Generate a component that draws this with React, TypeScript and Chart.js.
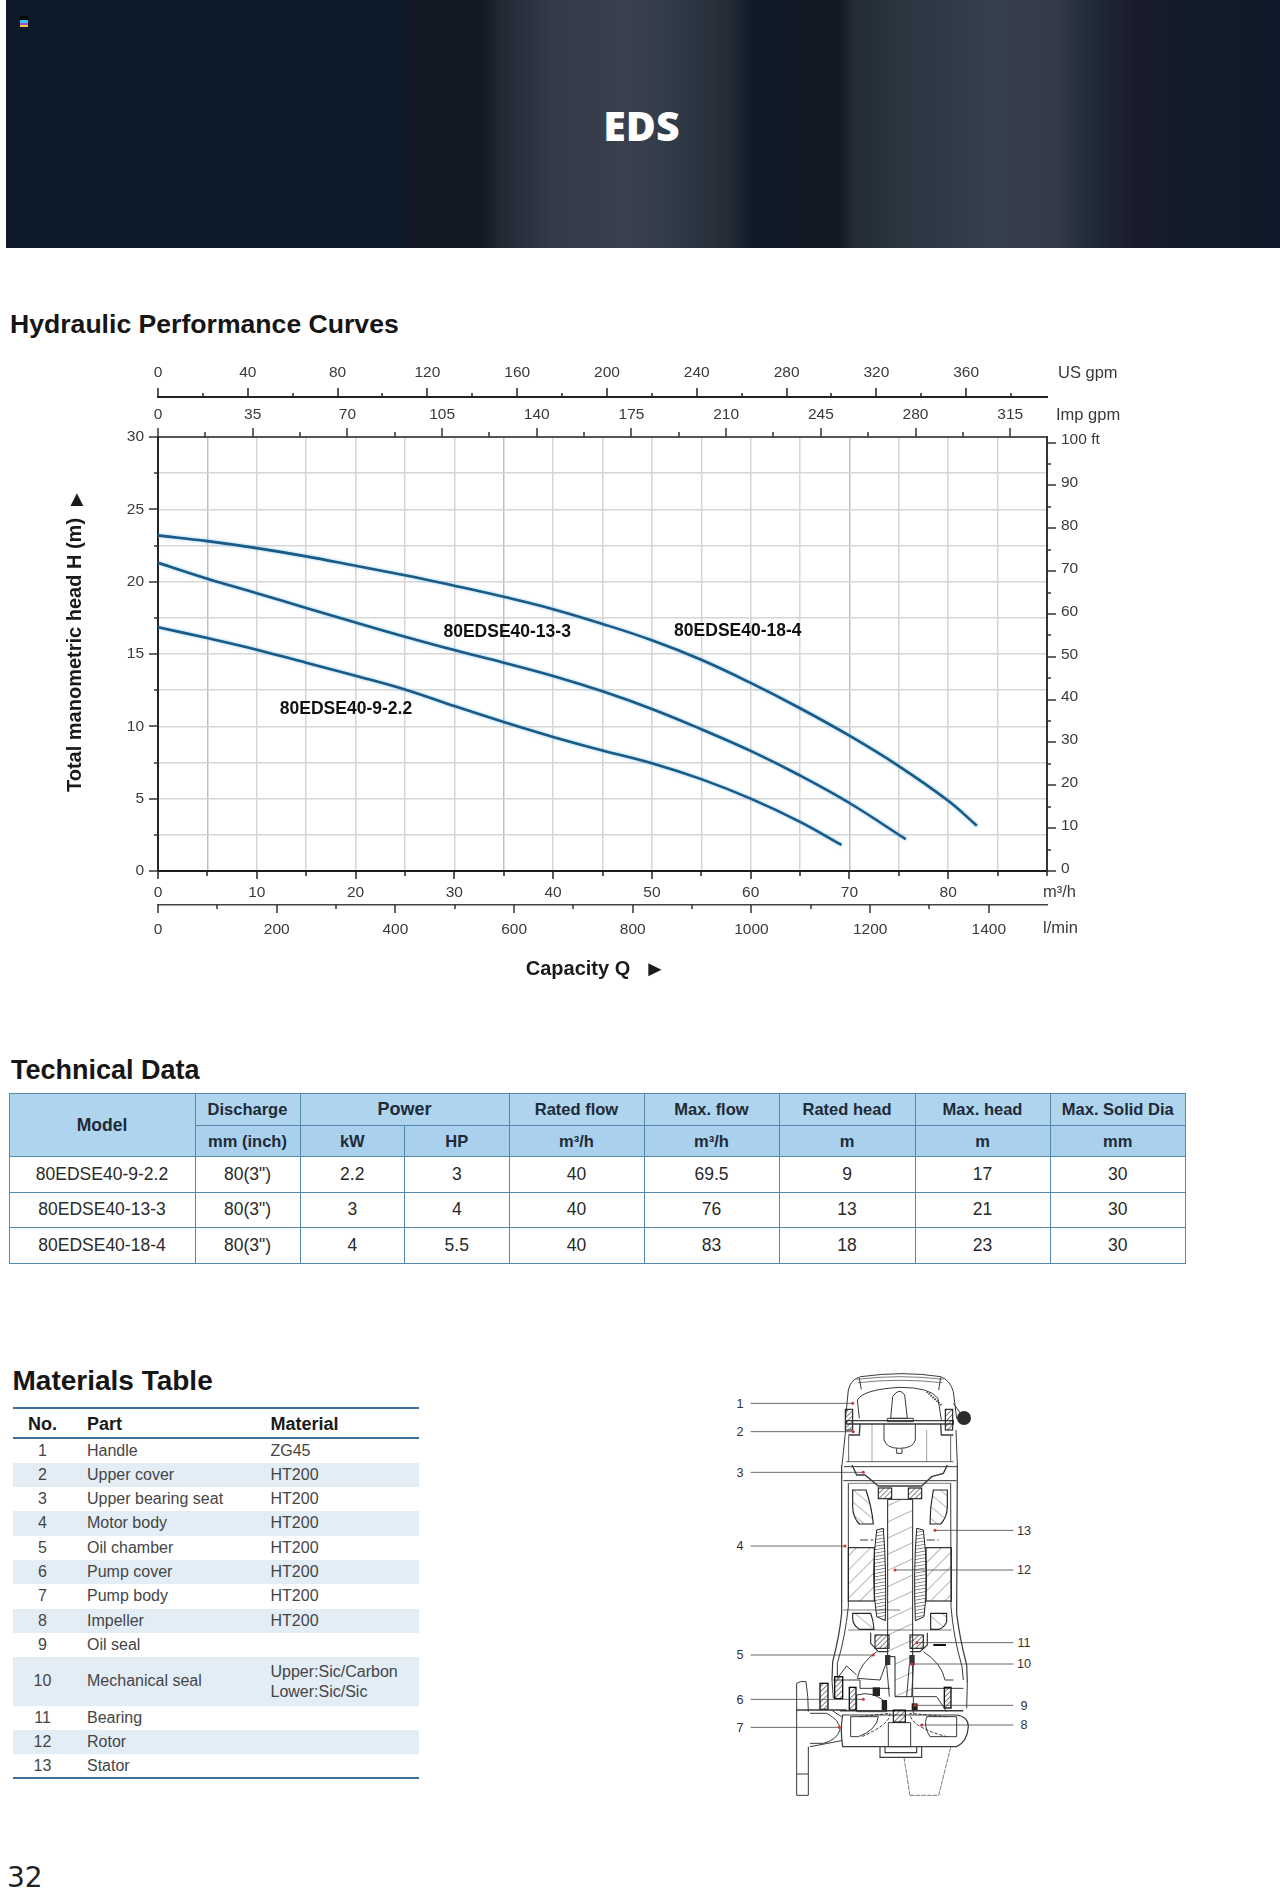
import React, { useEffect, useRef } from "react";
import { Chart, registerables } from "chart.js";

Chart.register(...registerables);

// ---------- chart data ----------
const flow184 = [0, 5, 10, 15, 20, 25, 30, 35, 40, 45, 50, 55, 60, 65, 70, 75, 80, 82.9];
const head184 = [23.2, 22.8, 22.32, 21.75, 21.1, 20.45, 19.72, 18.95, 18.1, 17.08, 15.95, 14.6, 13.0, 11.25, 9.35, 7.25, 4.85, 3.13];
const flow133 = [0, 5, 10, 15, 20, 25, 30, 35, 40, 45, 50, 55, 60, 65, 70, 75.7];
const head133 = [21.3, 20.2, 19.2, 18.18, 17.17, 16.2, 15.27, 14.4, 13.48, 12.42, 11.2, 9.8, 8.3, 6.6, 4.7, 2.2];
const flow922 = [0, 5, 10, 15, 20, 25, 30, 35, 40, 45, 50, 55, 60, 65, 69.2];
const head922 = [16.85, 16.1, 15.3, 14.4, 13.5, 12.55, 11.4, 10.3, 9.27, 8.33, 7.45, 6.35, 5.0, 3.4, 1.8];

const m3hLabels = [0, 10, 20, 30, 40, 50, 60, 70, 80];
const lminLabels = [0, 200, 400, 600, 800, 1000, 1200, 1400];
const lminTicks = [0, 100, 200, 300, 400, 500, 600, 700, 800, 900, 1000, 1100, 1200, 1300, 1400];
const impLabels = [0, 35, 70, 105, 140, 175, 210, 245, 280, 315];
const usLabels = [0, 40, 80, 120, 160, 200, 240, 280, 320, 360];
const headLabels = [0, 5, 10, 15, 20, 25, 30];
const feetLabels = [0, 10, 20, 30, 40, 50, 60, 70, 80, 90, 100];
const darkGridFlows = [5, 35, 70];

const curveNames = ["80EDSE40-18-4", "80EDSE40-13-3", "80EDSE40-9-2.2"];
const curveLabelFlow = [58.7, 35.35, 19.03];
const curveLabelHead = [16.55, 16.5, 11.2];

// ---------- table data ----------
const techGroupHeads = ["Discharge", "Power", "Rated flow", "Max. flow", "Rated head", "Max. head", "Max. Solid Dia"];
const techUnits = ["mm (inch)", "kW", "HP", "m³/h", "m³/h", "m", "m", "mm"];
const techRows = [
  ["80EDSE40-9-2.2", '80(3")', "2.2", "3", "40", "69.5", "9", "17", "30"],
  ["80EDSE40-13-3", '80(3")', "3", "4", "40", "76", "13", "21", "30"],
  ["80EDSE40-18-4", '80(3")', "4", "5.5", "40", "83", "18", "23", "30"],
];
const materialRows: [string, string, string[]][] = [
  ["1", "Handle", ["ZG45"]],
  ["2", "Upper cover", ["HT200"]],
  ["3", "Upper bearing seat", ["HT200"]],
  ["4", "Motor body", ["HT200"]],
  ["5", "Oil chamber", ["HT200"]],
  ["6", "Pump cover", ["HT200"]],
  ["7", "Pump body", ["HT200"]],
  ["8", "Impeller", ["HT200"]],
  ["9", "Oil seal", [""]],
  ["10", "Mechanical seal", ["Upper:Sic/Carbon", "Lower:Sic/Sic"]],
  ["11", "Bearing", [""]],
  ["12", "Rotor", [""]],
  ["13", "Stator", [""]],
];

const SANS = '"Liberation Sans", Arial, sans-serif';
const TICK_FONT = { family: "Liberation Sans", size: 15.5 };
const TEXT = "#3a3a3a";

const pts = (xs: number[], ys: number[]) => xs.map((x, i) => ({ x, y: ys[i] }));
const fixedH = (h: number) => (s: any) => { s.height = h; };
const fixedW = (w: number) => (s: any) => { s.width = w; };
const only = (list: number[]) => (v: any) => (list.includes(Number(v)) ? String(v) : "");

const tickSpec: Record<string, { side: string; list: number[]; major: number; minor: number; color: string; w: number }> = {
  x: { side: "bottom", list: m3hLabels, major: 8, minor: 5, color: "#222", w: 1.5 },
  lmin: { side: "bottom", list: lminLabels, major: 8, minor: 4, color: "#333", w: 1.5 },
  imp: { side: "top", list: impLabels, major: 9, minor: 5, color: "#333", w: 1.5 },
  us: { side: "top", list: usLabels, major: 9, minor: 4, color: "#222", w: 1.5 },
  y: { side: "left", list: headLabels, major: 9, minor: 4, color: "#333", w: 1.5 },
  ft: { side: "right", list: feetLabels, major: 9, minor: 4, color: "#333", w: 1.5 },
};

const tickPlugin = {
  id: "tickMarks",
  afterDraw(chart: any) {
    const { ctx } = chart;
    ctx.save();
    for (const id of Object.keys(tickSpec)) {
      const spec = tickSpec[id];
      const scale = chart.scales[id];
      ctx.strokeStyle = spec.color;
      ctx.lineWidth = spec.w;
      for (const t of scale.ticks) {
        const p = Math.round(scale.getPixelForValue(t.value));
        const len = spec.list.includes(t.value) ? spec.major : spec.minor;
        ctx.beginPath();
        if (spec.side === "bottom") { ctx.moveTo(p, scale.top); ctx.lineTo(p, scale.top + len); }
        if (spec.side === "top") { ctx.moveTo(p, scale.bottom); ctx.lineTo(p, scale.bottom - len); }
        if (spec.side === "left") { ctx.moveTo(scale.right, p); ctx.lineTo(scale.right - len, p); }
        if (spec.side === "right") { ctx.moveTo(scale.left, p); ctx.lineTo(scale.left + len, p); }
        ctx.stroke();
      }
    }
    ctx.restore();
  },
};

const glowPlugin = {
  id: "lineGlow",
  beforeDatasetsDraw(chart: any) {
    chart.ctx.save();
    chart.ctx.shadowColor = "rgba(90,175,235,0.75)";
    chart.ctx.shadowBlur = 3;
  },
  afterDatasetsDraw(chart: any) {
    chart.ctx.restore();
  },
};

const textPlugin = {
  id: "chartTexts",
  afterDraw(chart: any) {
    const { ctx, scales } = chart;
    ctx.save();
    ctx.textBaseline = "middle";
    // curve names, placed through the scales
    ctx.fillStyle = "#111";
    ctx.textAlign = "center";
    ctx.font = `bold 17.5px ${SANS}`;
    curveNames.forEach((n, i) => {
      ctx.fillText(n, scales.x.getPixelForValue(curveLabelFlow[i]), scales.y.getPixelForValue(curveLabelHead[i]));
    });
    // axis units
    ctx.fillStyle = TEXT;
    ctx.textAlign = "left";
    ctx.font = `16.5px ${SANS}`;
    const right = chart.chartArea.right;
    const top = chart.chartArea.top;
    const bottom = chart.chartArea.bottom;
    ctx.fillText("US gpm", right + 11, top - 64);
    ctx.fillText("Imp gpm", right + 9, top - 22);
    ctx.fillText("m³/h", right - 4, bottom + 21);
    ctx.fillText("l/min", right - 4, bottom + 57);
    // axis titles
    ctx.fillStyle = "#1a1a1a";
    ctx.font = `bold 20px ${SANS}`;
    ctx.textAlign = "center";
    ctx.fillText("Capacity Q", 578, bottom + 98);
    ctx.font = `22px ${SANS}`;
    ctx.fillText("►", 655, bottom + 99);
    ctx.fillText("▲", 77, top + 63);
    ctx.font = `bold 20px ${SANS}`;
    ctx.translate(75.5, top + 218);
    ctx.rotate(-Math.PI / 2);
    ctx.fillText("Total manometric head H (m)", 0, 0);
    ctx.restore();
  },
};

function PerformanceChart() {
  const ref = useRef<HTMLCanvasElement | null>(null);
  useEffect(() => {
    const line = (label: string, xs: number[], ys: number[]) => ({
      label,
      data: pts(xs, ys),
      borderColor: "#1b5a85",
      borderWidth: 2.6,
      pointRadius: 0,
      tension: 0.4,
      xAxisID: "x",
      yAxisID: "y",
    });
    const tickBase = { font: TICK_FONT, color: TEXT, autoSkip: false, maxRotation: 0, includeBounds: false };
    const noGrid = { display: false, drawTicks: false, tickLength: 0 };
    const chart = new Chart(ref.current as HTMLCanvasElement, {
      type: "line",
      data: {
        datasets: [
          line(curveNames[0], flow184, head184),
          line(curveNames[1], flow133, head133),
          line(curveNames[2], flow922, head922),
        ],
      },
      plugins: [tickPlugin, glowPlugin, textPlugin],
      options: {
        animation: false,
        responsive: false,
        layout: { padding: 0 },
        plugins: { legend: { display: false }, tooltip: { enabled: false }, title: { display: false } },
        scales: {
          x: {
            type: "linear", position: "bottom", weight: 1, min: 0, max: 90,
            grid: {
              drawTicks: false, tickLength: 0, lineWidth: 1.5,
              color: (c: any) => (darkGridFlows.includes(c.tick?.value) ? "#bfbfbf" : "#d6d6d6"),
            },
            border: { display: true, color: "#1c1c1c", width: 2 },
            ticks: { ...tickBase, stepSize: 5, padding: 12, callback: only(m3hLabels) },
            afterFit: fixedH(34),
          },
          lmin: {
            type: "linear", position: "bottom", weight: 2, min: 0, max: 1498,
            grid: noGrid,
            border: { display: true, color: "#444", width: 1.6 },
            ticks: { ...tickBase, stepSize: 100, padding: 15, callback: only(lminLabels) },
            afterBuildTicks: (s: any) => { s.ticks = lminTicks.map((value) => ({ value })); },
            afterFit: fixedH(95),
          },
          imp: {
            type: "linear", position: "top", weight: 1, min: 0, max: 328.6,
            grid: noGrid,
            border: { display: true, color: "#555", width: 2 },
            ticks: { ...tickBase, stepSize: 17.5, padding: 13, callback: only(impLabels) },
            afterFit: fixedH(40),
          },
          us: {
            type: "linear", position: "top", weight: 2, min: 0, max: 396,
            grid: noGrid,
            border: { display: true, color: "#222", width: 2 },
            ticks: { ...tickBase, stepSize: 20, padding: 15, callback: only(usLabels) },
            afterFit: fixedH(47),
          },
          y: {
            type: "linear", position: "left", min: 0, max: 30,
            grid: { drawTicks: false, tickLength: 0, color: "#d6d6d6", lineWidth: 1.5 },
            border: { display: true, color: "#222", width: 2 },
            ticks: { ...tickBase, stepSize: 2.5, padding: 14, callback: only(headLabels) },
            afterFit: fixedW(158),
          },
          ft: {
            type: "linear", position: "right", min: 0, max: 101.3,
            grid: noGrid,
            border: { display: true, color: "#333", width: 2 },
            ticks: {
              ...tickBase, font: { ...TICK_FONT, lineHeight: "5px" }, stepSize: 5, padding: 14,
              // a blank second line lifts each label a little above its tick, as in the reference
              callback: (v: any) => (feetLabels.includes(Number(v)) ? [Number(v) === 100 ? "100 ft" : String(v), ""] : ""),
            },
            afterFit: fixedW(233),
          },
        },
      },
    } as any);
    return () => chart.destroy();
  }, []);
  return (
    <canvas
      ref={ref}
      width={1280}
      height={650}
      style={{ position: "absolute", left: 0, top: 350, width: 1280, height: 650 }}
    />
  );
}

const heading = (text: string, left: number, centerY: number, size: number): React.ReactElement => (
  <div
    style={{
      position: "absolute", left, top: centerY - 20, height: 40, lineHeight: "40px",
      fontFamily: SANS, fontWeight: 700, fontSize: size, color: "#161616", whiteSpace: "nowrap",
    }}
  >
    {text}
  </div>
);

function Banner() {
  const stops =
    "#0d1a2a 0, #0d1a2a 400px, #131924 410px, #131924 482px, #222a36 502px, #333a48 553px, #3b3f4e 625px, #313c4a 666px, #252d37 727px, #111a28 752px, #121924 839px, #222b36 854px, #2c3641 905px, #353f4e 992px, #363a48 1053px, #1f2b36 1094px, #191b2a 1135px, #131c28 1180px, #0e1a2a 1280px";
  return (
    <div
      style={{
        position: "absolute", left: 6, top: 0, width: 1274, height: 248,
        background: `linear-gradient(90deg, ${stops})`, backgroundSize: "1280px 100%", backgroundPosition: "-6px 0",
      }}
    >
      <div style={{ position: "absolute", left: 14, top: 16, width: 8, height: 11, background: "#05070c" }} />
      <div style={{ position: "absolute", left: 14, top: 20, width: 8, height: 2.5, background: "#37c4f5" }} />
      <div style={{ position: "absolute", left: 14, top: 22.5, width: 8, height: 2, background: "#a24fd0" }} />
      <div style={{ position: "absolute", left: 14, top: 24.5, width: 8, height: 2.5, background: "#f7c948" }} />
      <div
        style={{
          position: "absolute", left: 0, right: 0, top: 97, textAlign: "center",
          transform: "translateX(-1.5px)",
          fontFamily: '"Open Sans", sans-serif', fontWeight: 800, fontSize: 41, lineHeight: "56px", color: "#fff",
        }}
      >
        EDS
      </div>
    </div>
  );
}

function TechTable() {
  const colW = [186, 105, 104.5, 104.5, 135, 135, 136, 135];
  const border = "1.5px solid #5489ac";
  const head: React.CSSProperties = {
    border, background: "#aed4ee", fontWeight: 700, fontSize: 16.5, color: "#1f2a38", padding: 0, textAlign: "center",
  };
  const unit: React.CSSProperties = { ...head, background: "#a9d1ed" };
  const cell: React.CSSProperties = { border, fontSize: 17.5, color: "#2a2a2a", padding: 0, textAlign: "center", background: "#fff" };
  return (
    <table
      style={{
        position: "absolute", left: 8.5, top: 1093, width: 1177.5, height: 170, tableLayout: "fixed",
        borderCollapse: "collapse", fontFamily: SANS,
      }}
    >
      <colgroup>{colW.map((w, i) => <col key={i} style={{ width: w }} />)}</colgroup>
      <tbody>
        <tr style={{ height: 32 }}>
          <td rowSpan={2} style={{ ...head, fontSize: 17.5 }}>Model</td>
          <td style={head}>{techGroupHeads[0]}</td>
          <td colSpan={2} style={{ ...head, fontSize: 18 }}>{techGroupHeads[1]}</td>
          {techGroupHeads.slice(2).map((h) => <td key={h} style={head}>{h}</td>)}
        </tr>
        <tr style={{ height: 31 }}>
          {techUnits.map((u, i) => <td key={i} style={unit}>{u}</td>)}
        </tr>
        {techRows.map((r, i) => (
          <tr key={i} style={{ height: 35.5 }}>
            {r.map((c, j) => <td key={j} style={cell}>{c}</td>)}
          </tr>
        ))}
      </tbody>
    </table>
  );
}

function MaterialsTable() {
  const rowH = 24.29;
  let y = 1438.5;
  const rule = (top: number) => (
    <div style={{ position: "absolute", left: 12.5, width: 406, top, height: 2, background: "#3f6f97" }} />
  );
  const base: React.CSSProperties = { position: "absolute", fontFamily: SANS, fontSize: 16, color: "#454545", whiteSpace: "nowrap" };
  const headText: React.CSSProperties = { ...base, top: 1412, height: 24, lineHeight: "24px", fontWeight: 700, fontSize: 18, color: "#1b1b1b" };
  const rows = materialRows.map((r, i) => {
    const h = r[2].length > 1 ? rowH * 2 : rowH;
    const top = y;
    y += h;
    return (
      <React.Fragment key={i}>
        {i % 2 === 1 && <div style={{ position: "absolute", left: 12.5, width: 406, top, height: h, background: "#e3edf6" }} />}
        <div style={{ ...base, left: 12.5, width: 60, textAlign: "center", top, height: h, lineHeight: `${h}px` }}>{r[0]}</div>
        <div style={{ ...base, left: 87, top, height: h, lineHeight: `${h}px` }}>{r[1]}</div>
        {r[2].map((m, k) => (
          <div key={k} style={{ ...base, left: 270.5, top: top + (r[2].length > 1 ? 5 + k * 19.5 : 0), height: rowH - (r[2].length > 1 ? 4 : 0), lineHeight: `${rowH - (r[2].length > 1 ? 4 : 0)}px` }}>{m}</div>
        ))}
      </React.Fragment>
    );
  });
  return (
    <>
      {rule(1406.5)}
      <div style={{ ...headText, left: 12.5, width: 60, textAlign: "center" }}>No.</div>
      <div style={{ ...headText, left: 87 }}>Part</div>
      <div style={{ ...headText, left: 270.5 }}>Material</div>
      {rule(1437)}
      {rows}
      {rule(1777)}
    </>
  );
}

const leftCallouts: [string, number, number][] = [
  ["1", 160, 458], ["2", 245, 460], ["3", 367, 490], ["4", 588, 435], ["5", 915, 520], ["6", 1048, 490], ["7", 1132, 418],
];
const rightCallouts: [string, number, number][] = [
  ["13", 541, 705], ["12", 660, 585], ["11", 878, 650], ["10", 942, 635], ["9", 1066, 645], ["8", 1125, 665],
];

function PumpDrawing() {
  const s = { fill: "none", stroke: "#3a3a3a", strokeWidth: 3 };
  return (
    <svg
      viewBox="0 0 1080 1410"
      style={{ position: "absolute", left: 700, top: 1350, width: 360, height: 470 }}
    >
      <defs>
        <pattern id="hatchA" width="30" height="30" patternUnits="userSpaceOnUse" patternTransform="rotate(45)">
          <line x1="0" y1="0" x2="0" y2="30" stroke="#444" strokeWidth="2.4" />
        </pattern>
        <pattern id="hatchB" width="28" height="28" patternUnits="userSpaceOnUse" patternTransform="rotate(-50)">
          <line x1="0" y1="0" x2="0" y2="28" stroke="#555" strokeWidth="2.4" />
        </pattern>
        <pattern id="hatchS" width="44" height="44" patternUnits="userSpaceOnUse" patternTransform="rotate(65)">
          <line x1="0" y1="0" x2="0" y2="44" stroke="#444" strokeWidth="2.4" />
        </pattern>
        <pattern id="hatchC" width="10" height="10" patternUnits="userSpaceOnUse" patternTransform="rotate(80)">
          <line x1="0" y1="0" x2="0" y2="10" stroke="#222" strokeWidth="3" />
        </pattern>
        <pattern id="hatchD" width="11" height="11" patternUnits="userSpaceOnUse" patternTransform="rotate(45)">
          <line x1="0" y1="0" x2="0" y2="11" stroke="#222" strokeWidth="3.4" />
        </pattern>
      </defs>

      {/* cover and handle */}
      <path d="M437 200 L445 120 Q452 88 482 80 Q610 62 722 80 Q750 90 760 125 L770 205" {...s} />
      <path d="M478 205 L472 150 Q490 118 600 112 Q690 112 714 145 L724 210" {...s} />
      <path d="M478 85 L484 118 M722 82 L716 120" {...s} />
      <path d="M470 88 Q600 72 730 88 M474 98 Q600 84 726 98" {...s} strokeWidth={2} />
      <path d="M680 125 L724 165" stroke="#333" strokeWidth="6" strokeDasharray="4 4" fill="none" />
      <path d="M572 205 L578 140 Q598 110 614 135 L622 205 Z M562 205 H640 V215 H562 Z" {...s} />
      <path d="M440 212 H760 V222 H440 Z" {...s} strokeWidth={4} />
      <rect x="436" y="178" width="22" height="62" fill="url(#hatchD)" stroke="#222" strokeWidth="3.4" />
      <rect x="736" y="178" width="22" height="62" fill="url(#hatchD)" stroke="#222" strokeWidth="3.4" />
      <path d="M760 160 L785 195 M770 205 H800" {...s} />
      <circle cx="792" cy="204" r="21" fill="#2c2c2c" />

      {/* upper chamber */}
      <path d="M480 222 L478 255 H445 M722 222 L724 255 H760" {...s} strokeWidth={4} />
      <path d="M552 222 V270 Q560 295 598 295 Q640 295 646 270 V222" {...s} />
      <path d="M590 295 V310 H606 V295" {...s} />
      <path d="M438 335 H760 M446 258 V335 M752 258 V335" {...s} strokeWidth={2.4} />
      <path d="M516 222 V335 M680 240 V335" {...s} strokeWidth={1.4} />
      <path d="M437 240 L426 345 M768 240 L772 345" {...s} />

      {/* bearing seat */}
      <path d="M432 350 H772 M430 392 H770" {...s} />
      <path d="M456 345 L470 375 L495 375 L535 408 H665 L695 380 L730 370 L742 345" {...s} strokeWidth={4} />
      <rect x="535" y="414" width="40" height="32" fill="url(#hatchD)" stroke="#222" strokeWidth="3.4" />
      <rect x="625" y="414" width="40" height="32" fill="url(#hatchD)" stroke="#222" strokeWidth="3.4" />

      {/* motor body walls */}
      <path d="M425 345 L425 790 Q418 860 398 935 L396 990" {...s} strokeWidth={3.6} />
      <path d="M445 400 L445 770 Q436 860 412 940 L412 985" {...s} />
      <path d="M772 345 L770 790 Q778 860 800 945 L802 1000" {...s} strokeWidth={3.6} />
      <path d="M752 400 L753 770 Q760 860 786 950 L790 990" {...s} />
      <path d="M445 400 H752" {...s} strokeWidth={2} />

      {/* windings and stator */}
      <path d="M458 420 H498 Q515 470 520 522 H478 Q458 500 458 470 Z" fill="url(#hatchB)" stroke="#222" strokeWidth="3.4" />
      <path d="M700 420 H742 V470 Q742 500 722 522 H690 Q690 470 700 420 Z" fill="url(#hatchB)" stroke="#222" strokeWidth="3.4" />
      <rect x="445" y="593" width="78" height="160" fill="url(#hatchA)" stroke="#222" strokeWidth="3.4" />
      <rect x="678" y="593" width="76" height="160" fill="url(#hatchA)" stroke="#222" strokeWidth="3.4" />
      <path d="M458 790 H512 Q520 810 522 838 H478 Q458 825 458 805 Z" fill="url(#hatchB)" stroke="#222" strokeWidth="3.4" />
      <path d="M692 790 H740 V815 Q735 830 718 838 H692 Z" fill="url(#hatchB)" stroke="#222" strokeWidth="3.4" />
      <path d="M480 570 H520 M680 570 H716" {...s} strokeDasharray="24 8" />
      <path d="M530 540 L550 535 Q560 660 556 812 L530 800 Q512 680 530 540 Z" fill="url(#hatchC)" stroke="#222" strokeWidth="3" />
      <path d="M650 535 L670 540 Q688 680 672 800 L646 812 Q640 660 650 535 Z" fill="url(#hatchC)" stroke="#222" strokeWidth="3" />

      {/* shaft */}
      <path d="M563 448 H638 V1040 H585 V920 H563 Z" fill="url(#hatchS)" stroke="#222" strokeWidth="3" />
      <path d="M430 780 H600 M445 840 H755" {...s} strokeWidth={2} />

      {/* lower bearing and oil chamber */}
      <rect x="525" y="855" width="42" height="40" fill="url(#hatchD)" stroke="#222" strokeWidth="3.4" />
      <rect x="630" y="855" width="40" height="40" fill="url(#hatchD)" stroke="#222" strokeWidth="3.4" />
      <path d="M512 848 V880 L535 905 H565 M682 848 V885 L660 905 H630" {...s} strokeWidth={3.6} />
      <path d="M700 885 H738" stroke="#111" strokeWidth="6" />
      <path d="M530 905 Q480 940 472 985 L540 990 L560 935 M670 905 Q725 940 735 990 L760 990 M412 985 L440 948 L470 975" {...s} />
      <rect x="555" y="915" width="16" height="30" fill="#333" />
      <rect x="628" y="915" width="16" height="30" fill="#333" />
      <path d="M560 945 L568 1040 M628 945 L620 1040 M640 945 L635 1040" {...s} />

      {/* pump cover */}
      <path d="M400 990 H480 V1015 H570 M640 1015 H790 M802 1000 L800 1075 M396 990 L400 1045" {...s} />
      <path d="M470 1035 Q520 1020 560 1060 V1085 H470 Z M640 1090 V1040 H710 L740 1085" {...s} />
      <rect x="360" y="1000" width="24" height="78" fill="url(#hatchD)" stroke="#111" strokeWidth="4" />
      <rect x="404" y="980" width="24" height="66" fill="url(#hatchD)" stroke="#111" strokeWidth="4" />
      <rect x="448" y="1012" width="20" height="68" fill="url(#hatchD)" stroke="#111" strokeWidth="4" />
      <rect x="733" y="1012" width="20" height="62" fill="url(#hatchD)" stroke="#111" strokeWidth="4" />
      <rect x="518" y="1012" width="22" height="26" fill="#222" />
      <rect x="545" y="1050" width="16" height="30" fill="#222" />
      <rect x="635" y="1060" width="18" height="22" fill="#222" />
      <path d="M290 1080 H440 M420 1082 H790" {...s} strokeWidth={4.4} />

      {/* volute, impeller, feet, flange */}
      <path d="M428 1095 H770 Q805 1100 805 1130 Q802 1175 770 1190 H428 Q420 1140 428 1095 Z" {...s} strokeWidth={3.6} />
      <path d="M452 1100 H535 Q530 1140 475 1160 H452 Z M770 1100 H680 Q670 1130 690 1160 H770 Z" {...s} />
      <path d="M480 1100 L570 1090 Q570 1125 480 1162 M740 1100 L630 1090 Q630 1130 740 1160" {...s} strokeDasharray="10 5" />
      <path d="M565 1118 H632 V1190 H565 Z" {...s} />
      <rect x="580" y="1080" width="36" height="36" fill="url(#hatchD)" stroke="#111" strokeWidth="3.4" />
      <path d="M540 1190 V1222 H665 V1190 M555 1190 V1208 H650 V1190" {...s} strokeWidth={3.4} />
      <path d="M612 1222 L630 1336 M752 1192 L716 1336 M630 1336 H716" {...s} strokeWidth={2} strokeDasharray="14 3" />
      <path d="M425 1100 Q400 1085 395 1080 M330 1090 H380 Q420 1110 420 1140 Q410 1170 370 1180 H330" {...s} />
      <path d="M290 1000 Q300 992 318 995 Q325 1040 325 1085 M290 1000 V1336 H325 V1270 M325 1190 V1270 M290 1272 H325" {...s} />
      <path d="M330 1190 L425 1172" {...s} />

      {/* red marker dots and callouts */}
      {leftCallouts.map(([n, y, x]) => (
        <g key={n}>
          <line x1="152" y1={y} x2={x} y2={y} stroke="#444" strokeWidth="2.4" />
          <circle cx={x} cy={y} r="4.5" fill="#c33" />
          <text x="120" y={y + 13} textAnchor="middle" fontFamily={SANS} fontSize="38" fill="#333">{n}</text>
        </g>
      ))}
      {rightCallouts.map(([n, y, x]) => (
        <g key={n}>
          <line x1={x} y1={y} x2="940" y2={y} stroke="#444" strokeWidth="2.4" />
          <circle cx={x} cy={y} r="4.5" fill="#c33" />
          <text x="972" y={y + 13} textAnchor="middle" fontFamily={SANS} fontSize="38" fill="#333">{n}</text>
        </g>
      ))}
    </svg>
  );
}

export default function App() {
  return (
    <div style={{ position: "absolute", left: 0, top: 0, width: 1280, height: 1890, overflow: "hidden", background: "#fff" }}>
      <Banner />
      {heading("Hydraulic Performance Curves", 10, 324, 26.6)}
      <PerformanceChart />
      {heading("Technical Data", 11, 1070, 27)}
      <TechTable />
      {heading("Materials Table", 12.5, 1381, 28)}
      <MaterialsTable />
      <PumpDrawing />
      <div style={{ position: "absolute", left: 7, top: 1860, fontFamily: '"DejaVu Sans", sans-serif', fontSize: 28, lineHeight: "36px", color: "#222" }}>32</div>
    </div>
  );
}
